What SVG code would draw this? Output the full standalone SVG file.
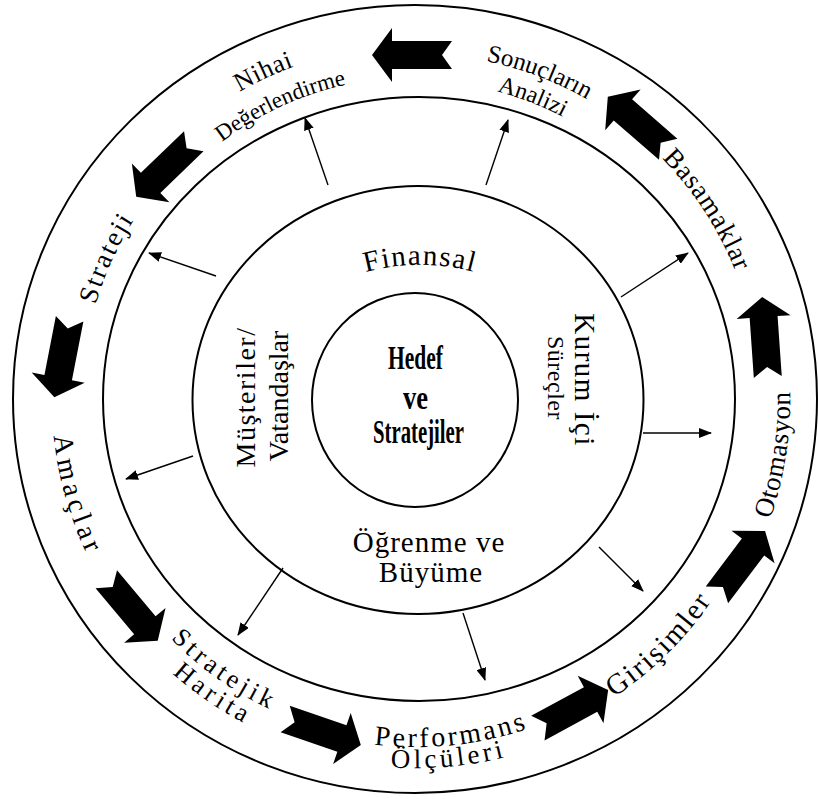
<svg xmlns="http://www.w3.org/2000/svg" width="818" height="799" viewBox="0 0 818 799">
<defs>
<style>
.ring{fill:none;stroke:#000;stroke-width:2}
.lbl{font-family:"Liberation Serif","Times New Roman",serif;fill:#000;text-anchor:middle}
.i{font-size:29px}
.c{font-family:"Liberation Serif","Times New Roman",serif;font-weight:bold;font-size:33px;text-anchor:middle;fill:#000}
.thin{stroke:#000;stroke-width:1.4;fill:none;marker-end:url(#ah)}
.blk{fill:#000}
</style>
<marker id="ah" viewBox="0 0 13 10" refX="12" refY="5" markerWidth="13" markerHeight="10" markerUnits="userSpaceOnUse" orient="auto"><path d="M0,0 L13,5 L0,10 Z" fill="#000"/></marker>
<path id="ba" d="M40,0 L20,-27 L20,-14 L-40,-14 L-30,0 L-40,14 L20,14 L20,27 Z"/>
<path id="p1" d="M144.8,171.4 A354,354 0 0 1 687.2,171.4"/>
<path id="p2" d="M169.3,192 A322,322 0 0 1 662.7,192"/>
<path id="p3" d="M151.7,177.2 A345,345 0 0 1 680.3,177.2"/>
<path id="p4" d="M172.4,194.5 A318,318 0 0 1 659.6,194.5"/>
<path id="p5" d="M152.5,177.8 A344,344 0 0 1 679.5,177.8"/>
<path id="p6" d="M129.5,639.6 A374,374 0 0 0 702.5,639.6"/>
<path id="p7" d="M141.8,629.2 A358,358 0 0 0 690.2,629.2"/>
<path id="p8" d="M149.4,622.8 A348,348 0 0 0 682.6,622.8"/>
<path id="p9" d="M133.3,636.3 A369,369 0 0 0 698.7,636.3"/>
<path id="p10" d="M153.3,619.5 A343,343 0 0 0 678.7,619.5"/>
<path id="p11" d="M134.9,635 A367,367 0 0 0 697.1,635"/>
<path id="p12" d="M137.2,633.1 A364,364 0 0 0 694.8,633.1"/>
<path id="p13" d="M160.2,184.2 A334,334 0 0 1 671.8,184.2"/>
<path id="pf" d="M263,338 A205,205 0 0 1 577,338"/>
</defs>
<rect width="818" height="799" fill="#fff"/>

<g id="rings">
<ellipse class="ring" cx="415" cy="399" rx="402" ry="394"/>
<ellipse class="ring" cx="419" cy="399" rx="316" ry="302"/>
<ellipse class="ring" cx="418" cy="400" rx="225.5" ry="214"/>
<ellipse class="ring" cx="415" cy="400" rx="103" ry="107"/>
</g>

<g id="center">
<text class="c" x="415.5" y="369" textLength="55" lengthAdjust="spacingAndGlyphs">Hedef</text>
<text class="c" x="415.5" y="409" textLength="25" lengthAdjust="spacingAndGlyphs">ve</text>
<text class="c" x="418.5" y="443" textLength="91" lengthAdjust="spacingAndGlyphs">Stratejiler</text>
</g>

<g id="finansal"><text class="lbl i" letter-spacing="1.5"><textPath href="#pf" startOffset="50%">Finansal</textPath></text></g>
<g id="kurum">
<text class="lbl i" transform="translate(575,380) rotate(90)" letter-spacing="1.5">Kurum İçi</text>
<text class="lbl" style="font-size:24px" transform="translate(548,378) rotate(90)" letter-spacing="0.5">Süreçler</text>
</g>
<g id="musteriler">
<text class="lbl" style="font-size:28px" transform="translate(255,397) rotate(-90)" letter-spacing="1.5">Müşteriler/</text>
<text class="lbl" style="font-size:28px" transform="translate(288,396) rotate(-90)">Vatandaşlar</text>
</g>
<g id="ogrenme">
<text class="lbl i" x="429" y="552" letter-spacing="1">Öğrenme ve</text>
<text class="lbl i" x="431" y="582" letter-spacing="1">Büyüme</text>
</g>

<g id="nihai">
<text class="lbl" style="font-size:26px" transform="rotate(-25 416 399)" letter-spacing="0.5"><textPath href="#p1" startOffset="50%">Nihai</textPath></text>
<text class="lbl" style="font-size:23px" transform="rotate(-24.8 416 399)"><textPath href="#p2" startOffset="50%">Değerlendirme</textPath></text>
</g>
<g id="sonuclarin">
<text class="lbl" style="font-size:25px" transform="rotate(20.7 416 399)"><textPath href="#p3" startOffset="50%">Sonuçların</textPath></text>
<text class="lbl" style="font-size:24px" transform="rotate(21.1 416 399)"><textPath href="#p4" startOffset="50%">Analizi</textPath></text>
</g>
<g id="basamaklar">
<text class="lbl" style="font-size:27px" transform="rotate(57 416 399)" letter-spacing="0.9"><textPath href="#p5" startOffset="50%">Basamaklar</textPath></text>
</g>
<g id="otomasyon">
<text class="lbl" style="font-size:27px" transform="rotate(-81.2 416 399)" letter-spacing="0.6"><textPath href="#p6" startOffset="50%">Otomasyon</textPath></text>
</g>
<g id="girisimler">
<text class="lbl" style="font-size:29px" transform="rotate(-44.7 416 399)" letter-spacing="2"><textPath href="#p7" startOffset="50%">Girişimler</textPath></text>
</g>
<g id="performans">
<text class="lbl" style="font-size:28px" transform="rotate(-6 416 399)" letter-spacing="2.8"><textPath href="#p8" startOffset="50%">Performans</textPath></text>
<text class="lbl" style="font-size:27px" transform="rotate(-5.2 416 399)" letter-spacing="3.7"><textPath href="#p9" startOffset="50%">Ölçüleri</textPath></text>
</g>
<g id="stratejik">
<text class="lbl" style="font-size:26px" transform="rotate(35.2 416 399)" letter-spacing="4.1"><textPath href="#p10" startOffset="50%">Stratejik</textPath></text>
<text class="lbl" style="font-size:26px" transform="rotate(34.5 416 399)" letter-spacing="4.3"><textPath href="#p11" startOffset="50%">Harita</textPath></text>
</g>
<g id="amaclar">
<text class="lbl" style="font-size:28px" transform="rotate(74.2 416 399)" letter-spacing="4.4"><textPath href="#p12" startOffset="50%">Amaçlar</textPath></text>
</g>
<g id="strateji">
<text class="lbl" style="font-size:27px" transform="rotate(-65.5 416 399)" letter-spacing="2.1"><textPath href="#p13" startOffset="50%">Strateji</textPath></text>
</g>

<g id="connectors">
<g id="thin-arrows">
<path class="thin" d="M328,185 L305,118"/>
<path class="thin" d="M486,185 L508,120"/>
<path class="thin" d="M216,276 L149,253"/>
<path class="thin" d="M621,297 L688,253"/>
<path class="thin" d="M193,456 L126,479"/>
<path class="thin" d="M643,433 L711,433"/>
<path class="thin" d="M283,568 L238,635"/>
<path class="thin" d="M599,547 L643,591"/>
<path class="thin" d="M463,613 L485,680"/>
</g>
<g id="block-arrows" class="blk">
<use href="#ba" transform="translate(412,55) rotate(180)"/>
<use href="#ba" transform="translate(165,169) rotate(136)"/>
<use href="#ba" transform="translate(62,358) rotate(101)"/>
<use href="#ba" transform="translate(132,610) rotate(50)"/>
<use href="#ba" transform="translate(323,732) rotate(19)"/>
<use href="#ba" transform="translate(573,709) rotate(-28.5)"/>
<use href="#ba" transform="translate(741,563) rotate(-53)"/>
<use href="#ba" transform="translate(765,337) rotate(-94)"/>
<use href="#ba" transform="translate(638,123) rotate(-139)"/>
</g>
</g>
</svg>
